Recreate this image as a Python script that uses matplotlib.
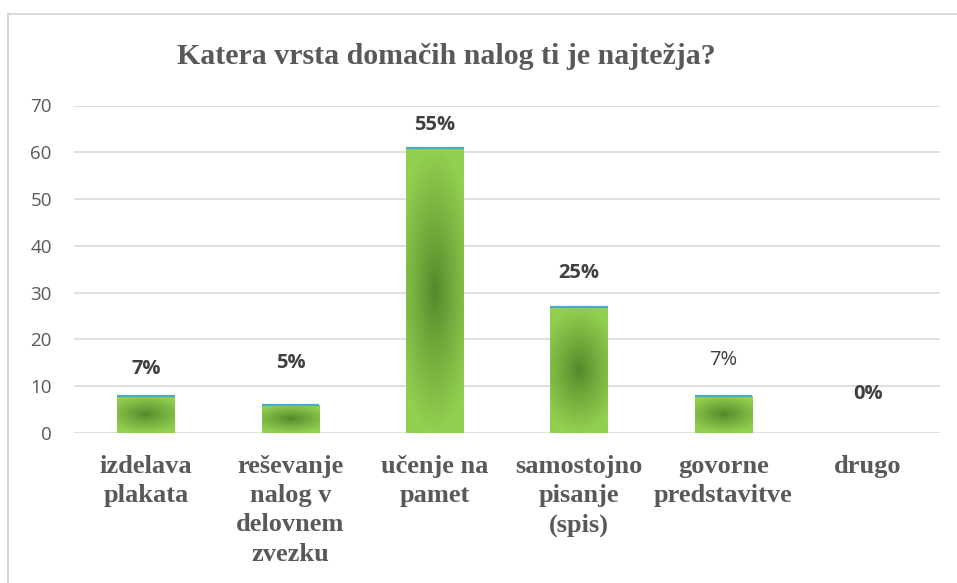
"""Bar chart: Katera vrsta domačih nalog ti je najtežja?"""

import matplotlib

matplotlib.use("Agg")
import matplotlib.pyplot as plt
import numpy as np
from matplotlib.colors import LinearSegmentedColormap
from matplotlib.lines import Line2D

categories = [
    "izdelava\nplakata",
    "reševanje\nnalog v\ndelovnem\nzvezku",
    "učenje na\npamet",
    "samostojno\npisanje\n(spis)",
    "govorne\npredstavitve",
    "drugo",
]
counts = [8, 6, 61, 27, 8, 0]
pct_labels = ["7%", "5%", "55%", "25%", "7%", "0%"]
label_bold = [True, True, True, True, False, True]
# label offsets above bar top, in pixels
label_offset_px = [27, 42, 23, 34, 36, 39]

LIGHT = "#92D050"
DARK = "#538629"
GRID = "#D9D9D9"
TEXT = "#595959"

W, H = 957, 583
fig = plt.figure(figsize=(W / 100, H / 100), dpi=100)
ax = fig.add_axes([74 / W, (H - 433) / H, (940 - 74) / W, (433 - 105.5) / H])

x = np.arange(len(categories))
bars = ax.bar(x, counts, width=0.4, color=LIGHT, zorder=2)

# path-like gradient: dark centre, light edges
cmap = LinearSegmentedColormap.from_list("grn", [DARK, LIGHT])
yy, xx = np.mgrid[-1:1:200j, -1:1:60j]
r = np.clip(np.sqrt(0.5 * xx**2 + yy**2), 0, 1) ** 0.85
for b in bars:
    h = b.get_height()
    if h <= 0:
        continue
    x0, w = b.get_x(), b.get_width()
    im = ax.imshow(r, cmap=cmap, vmin=0, vmax=1, extent=[x0, x0 + w, 0, h],
                   aspect="auto", interpolation="bilinear", zorder=3)
    im.set_clip_path(b)
    ax.plot([x0, x0 + w], [h, h], color="#4BACC6", lw=1.6, solid_capstyle="butt", zorder=4)

for xi, c, lab, bold, off in zip(x, counts, pct_labels, label_bold, label_offset_px):
    ax.annotate(lab, (xi, c), xytext=(0, off), textcoords="offset pixels",
                ha="center", va="center", fontsize=14.5, family="Open Sans",
                fontweight="bold" if bold else "normal", color="#404040", zorder=5)

ax.set_xlim(-0.5, len(categories) - 0.5)
ax.set_ylim(0, 70)
ax.set_yticks(range(0, 71, 10))
ax.yaxis.grid(True, color=GRID, lw=1.2)
ax.set_axisbelow(True)
for s in ax.spines.values():
    s.set_visible(False)
ax.tick_params(axis="y", length=0, pad=16, labelsize=13.5, labelcolor=TEXT)
for t in ax.get_yticklabels():
    t.set_family("Open Sans")
ax.tick_params(axis="x", length=0, pad=16)
ax.set_xticks(x)
ax.set_xticklabels(categories, family="Liberation Serif", fontweight="bold",
                   fontsize=19, color=TEXT, linespacing=1.34, va="top")

fig.text(446 / W, (H - 57) / H, "Katera vrsta domačih nalog ti je najtežja?",
         ha="center", va="center", family="Liberation Serif", fontweight="bold",
         fontsize=21.5, color=TEXT)

# chart area border (cut off at right and bottom)
fig.add_artist(Line2D([8 / W, 8 / W], [0, (H - 14) / H], color=GRID, lw=1.5))
fig.add_artist(Line2D([8 / W, 1], [(H - 14) / H, (H - 14) / H], color=GRID, lw=1.5))

fig.savefig("out.png", dpi=100)
